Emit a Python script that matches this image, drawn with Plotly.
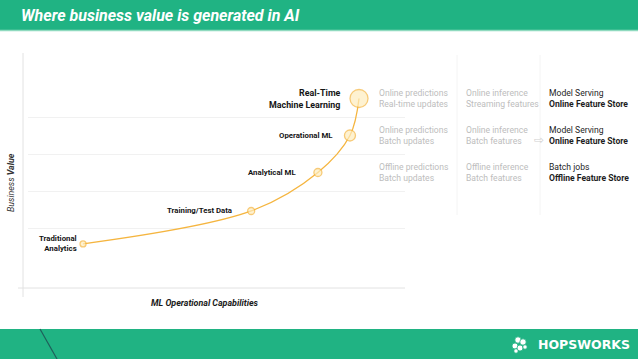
import plotly.graph_objects as go

# ---- data ----
stages = ["Traditional<br>Analytics", "Training/Test Data", "Analytical ML", "Operational ML", "Real-Time<br>Machine Learning"]
capability = [1.46, 5.92, 7.69, 8.54, 8.78]
business_value = [0.57, 1.46, 2.5, 3.5, 4.5]
marker_sizes = [6, 7, 8, 11, 18]
grid_levels = [1, 2, 3, 4]

row_levels = [4.5, 3.5, 2.5]
col_predictions = ["Online predictions<br>Real-time updates", "Online predictions<br>Batch updates", "Offline predictions<br>Batch updates"]
col_inference = ["Online inference<br>Streaming features", "Online inference<br>Batch features", "Offline inference<br>Batch features"]
col_infra = ["Model Serving<br><b>Online Feature Store</b>", "Model Serving<br><b>Online Feature Store</b>", "Batch jobs<br><b>Offline Feature Store</b>"]

title_text = "Where business value is generated in AI"
x_title = "ML Operational Capabilities"
y_title = "<i>Business <b>Value</b></i>"

# ---- layout geometry (pixels) ----
W, H = 638, 359
L, R, T, B = 28, 405, 53, 288
GREEN = "#20B383"
ORANGE = "#F5B53F"

def px(x):
    return (x - L) / (R - L)

def py(y):
    return (B - y) / (B - T)

fig = go.Figure()
fig.add_trace(go.Scatter(
    x=capability, y=business_value, mode="lines+markers",
    line=dict(color=ORANGE, width=1.3, shape="spline", smoothing=1.0),
    marker=dict(size=marker_sizes, color="#FEEDBE", line=dict(color=ORANGE, width=1.3)),
    hoverinfo="skip", cliponaxis=False,
))

label_shift = [-4, -17, -20, -15, -16]
label_sizes = [7.8, 7.8, 7.8, 7.8, 8.9]
annotations = []
for s, x, y, dx, fs in zip(stages, capability, business_value, label_shift, label_sizes):
    annotations.append(dict(x=x, y=y, xref="x", yref="y", text="<b>" + s + "</b>", showarrow=False,
                            xanchor="right", yanchor="middle", xshift=dx, align="right",
                            font=dict(family="Roboto", size=fs, color="#151515")))

for lvl, a, b, c in zip(row_levels, col_predictions, col_inference, col_infra):
    annotations.append(dict(x=px(376.5), y=lvl, xref="paper", yref="y", text=a, showarrow=False,
                            xanchor="left", yanchor="middle", align="left",
                            font=dict(family="Roboto", size=8.6, color="#BDBDBD")))
    annotations.append(dict(x=px(464), y=lvl, xref="paper", yref="y", text=b, showarrow=False,
                            xanchor="left", yanchor="middle", align="left",
                            font=dict(family="Roboto", size=8.6, color="#BDBDBD")))
    annotations.append(dict(x=px(546.5), y=lvl, xref="paper", yref="y", text=c, showarrow=False,
                            xanchor="left", yanchor="middle", align="left",
                            font=dict(family="Roboto", size=8.6, color="#1E1E1E")))

# arrow glyph
annotations.append(dict(x=px(539), y=py(139.5), xref="paper", yref="paper", text="⇨", showarrow=False,
                        xanchor="center", yanchor="middle", font=dict(family="DejaVu Sans", size=12, color="#D0D0D0")))

# title
annotations.append(dict(x=px(18.5), y=py(15), xref="paper", yref="paper", text="<b><i>" + title_text + "</i></b>",
                        showarrow=False, xanchor="left", yanchor="middle",
                        font=dict(family="Roboto", size=16, color="white")))
# axis titles
annotations.append(dict(x=px(205), y=py(302.5), xref="paper", yref="paper", text="<b><i>" + x_title + "</i></b>",
                        showarrow=False, xanchor="center", yanchor="middle",
                        font=dict(family="Roboto", size=8.9, color="#1A1A1A")))
annotations.append(dict(x=px(11), y=py(183), xref="paper", yref="paper", text=y_title, textangle=-90,
                        showarrow=False, xanchor="center", yanchor="middle",
                        font=dict(family="Roboto", size=8.8, color="#333333")))
# logo text
annotations.append(dict(x=px(535.5), y=py(344.5), xref="paper", yref="paper", text="<b>HOPSWORKS</b>",
                        showarrow=False, xanchor="left", yanchor="middle",
                        font=dict(family="DejaVu Sans", size=12.5, color="white")))

shapes = []
# header band + light strip
shapes.append(dict(type="rect", xref="paper", yref="paper", x0=px(0), x1=px(W), y0=py(0), y1=py(30),
                   fillcolor=GREEN, line=dict(width=0), layer="below"))
shapes.append(dict(type="line", xref="paper", yref="paper", x0=px(0), x1=px(W), y0=py(30.5), y1=py(30.5),
                   line=dict(color="#8FDABF", width=1.5)))
# footer band
shapes.append(dict(type="rect", xref="paper", yref="paper", x0=px(0), x1=px(W), y0=py(329), y1=py(H),
                   fillcolor=GREEN, line=dict(width=0), layer="below"))
shapes.append(dict(type="line", xref="paper", yref="paper", x0=px(40), x1=px(57), y0=py(329), y1=py(359),
                   line=dict(color="#1E5F5A", width=1.2)))
# logo icon (approximate hop cone)
for cx, cy, r in [(518, 340, 3.2), (523, 342, 3.2), (515, 346, 3.0), (520, 348, 3.0), (525, 347, 2.2), (516, 351, 2.2)]:
    shapes.append(dict(type="circle", xref="paper", yref="paper", x0=px(cx - r), x1=px(cx + r),
                       y0=py(cy + r), y1=py(cy - r), fillcolor="white", line=dict(color=GREEN, width=0.8)))
# axis lines
shapes.append(dict(type="line", xref="paper", yref="paper", x0=px(23), x1=px(23), y0=py(53), y1=py(297),
                   line=dict(color="#E2E2E2", width=1), layer="below"))
shapes.append(dict(type="line", xref="paper", yref="paper", x0=px(18), x1=px(405), y0=py(288), y1=py(288),
                   line=dict(color="#E2E2E2", width=1), layer="below"))
# column separators
for sx in [457, 540]:
    shapes.append(dict(type="line", xref="paper", yref="paper", x0=px(sx), x1=px(sx), y0=py(55), y1=py(215),
                       line=dict(color="#F4F4F4", width=1), layer="below"))

y0 = 1 - (B - 228) / 37.0
y1 = y0 + (B - T) / 37.0

fig.update_layout(
    width=W, height=H, autosize=False,
    margin=dict(l=L, r=W - R, t=T, b=H - B, pad=0),
    paper_bgcolor="white", plot_bgcolor="white",
    showlegend=False,
    xaxis=dict(range=[0, 10], showgrid=False, zeroline=False, showticklabels=False, ticks="", showline=False),
    yaxis=dict(range=[y0, y1], tickvals=grid_levels, showgrid=True, gridcolor="#F1F1F1", gridwidth=1,
               zeroline=False, showticklabels=False, ticks="", showline=False),
    annotations=annotations, shapes=shapes,
)

fig.write_html("out.html", config={"displayModeBar": False},
               post_script="document.body.style.margin='0';document.body.style.overflow='hidden';")
